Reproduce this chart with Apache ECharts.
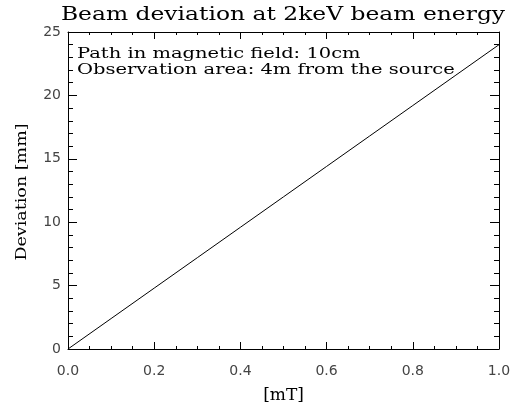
<!DOCTYPE html>
<html>
<head>
<meta charset="utf-8">
<script src="https://cdn.jsdelivr.net/npm/echarts@6/dist/echarts.min.js"></script>
<style>
  html,body{margin:0;padding:0;background:#fff;}
  #chart{width:510px;height:403px;}
</style>
</head>
<body>
<div id="chart"></div>
<script>
// field strength [mT]
var fieldValues = [0, 0.1, 0.2, 0.3, 0.4, 0.5, 0.6, 0.7, 0.8, 0.9, 1.0]
// deviation [mm]
var deviationValues = [0, 2.4, 4.8, 7.2, 9.6, 12.0, 14.4, 16.8, 19.2, 21.6, 24.0]
var noteLines = ['Path in magnetic field: 10cm', 'Observation area: 4m from the source']

var chart = echarts.init(document.getElementById('chart'))
var serif = '"DejaVu Serif", serif'
var sans = '"DejaVu Sans", sans-serif'

function axisBase(pos, isX, showLabel) {
  return {
    type: 'value',
    position: pos,
    min: 0,
    max: isX ? 1 : 25,
    interval: isX ? 0.2 : 5,
    axisLine: { show: true, onZero: false, lineStyle: { color: '#000', width: 1 } },
    axisTick: { show: true, inside: true, length: isX ? 7 : 9, lineStyle: { color: '#000' } },
    minorTick: { show: true, splitNumber: isX ? 4 : 5, length: isX ? 3 : 5, lineStyle: { color: '#000' } },
    splitLine: { show: false },
    axisLabel: {
      show: showLabel,
      color: '#444',
      fontFamily: sans,
      fontSize: 14,
      margin: isX ? 15 : 7,
      formatter: function (v) { return isX ? v.toFixed(1) : String(v) }
    }
  }
}

var xBottom = axisBase('bottom', true, true)
xBottom.name = '[mT]'
xBottom.nameLocation = 'middle'
xBottom.nameGap = 38
xBottom.nameTextStyle = { fontFamily: serif, fontSize: 17, color: '#000' }
var xTop = axisBase('top', true, false)

var yLeft = axisBase('left', false, true)
var yRight = axisBase('right', false, false)

var option = {
  animation: false,
  backgroundColor: '#fff',
  grid: { left: 68, right: 11, top: 32, bottom: 54, containLabel: false, outerBoundsMode: 'none' },
  xAxis: [xBottom, xTop],
  yAxis: [yLeft, yRight],
  graphic: [
    {
      type: 'text', x: 283, y: 6, scaleX: 1.3,
      style: { text: 'Beam deviation at 2keV beam energy', font: '18px ' + serif, fill: '#000', textAlign: 'center', textVerticalAlign: 'top' }
    },
    {
      type: 'text', x: 22, y: 192, rotation: Math.PI / 2, scaleX: 1.25,
      style: { text: 'Deviation [mm]', font: '14px ' + serif, fill: '#000', textAlign: 'center', textVerticalAlign: 'middle' }
    },
    {
      type: 'text', x: 77, y: 47, scaleX: 1.3,
      style: { text: noteLines[0], font: '15px ' + serif, fill: '#000', textVerticalAlign: 'top' }
    },
    {
      type: 'text', x: 77, y: 63, scaleX: 1.3,
      style: { text: noteLines[1], font: '15px ' + serif, fill: '#000', textVerticalAlign: 'top' }
    }
  ],
  series: [
    {
      type: 'line',
      xAxisIndex: 0,
      yAxisIndex: 0,
      showSymbol: false,
      lineStyle: { color: '#000', width: 1 },
      data: fieldValues.map(function (x, i) { return [x, deviationValues[i]] })
    }
  ]
}
chart.setOption(option)
</script>
</body>
</html>
